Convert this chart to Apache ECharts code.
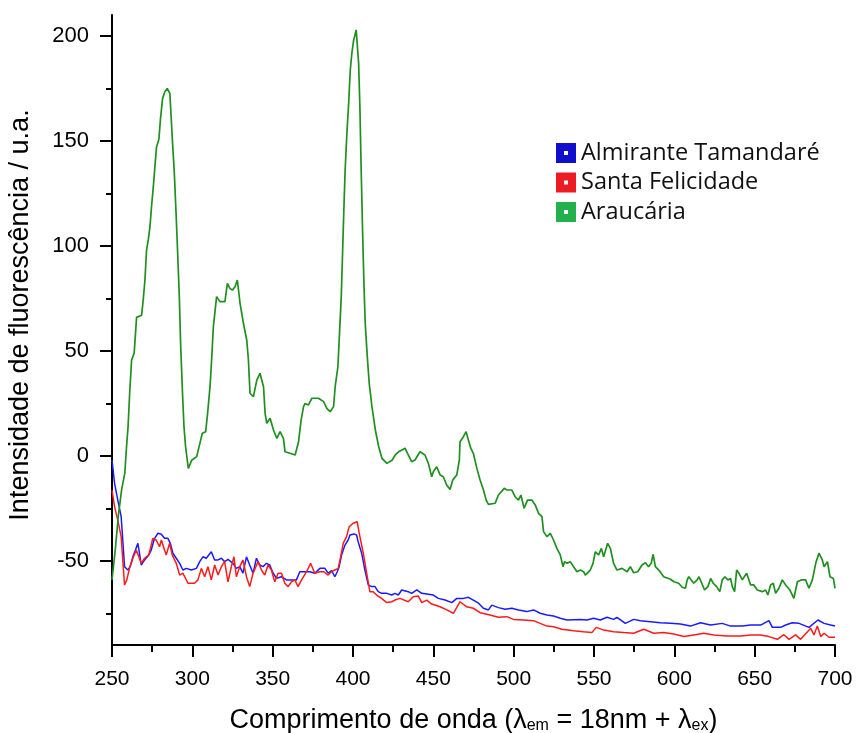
<!DOCTYPE html>
<html>
<head>
<meta charset="utf-8">
<script src="https://cdn.jsdelivr.net/npm/echarts@6/dist/echarts.min.js"></script>
<style>
  html, body { margin: 0; padding: 0; background: #fff; }
  #chart { width: 858px; height: 733px; }
</style>
</head>
<body>
<div id="chart"></div>
<script>
// Almirante Tamandaré (blue)
var tamandareX = [250,251.6,253.6,255.7,256.7,257.8,259.9,261.3,263,264.6,266.1,267.1,268.2,270.3,272.9,274.4,276.5,278.6,280.7,282.7,284.8,286.3,287.9,290,292.1,294.1,296.3,299.4,302.5,304.6,306.6,308.7,311.8,313.9,316,318.1,320.1,322.2,325.3,327.4,329.5,331.5,333.7,335.7,337.8,339.9,342,344,346.1,348.2,350.3,352.4,355.5,358.6,361.7,364.8,366.9,370,373.1,376.2,379.4,382.5,384.5,386.7,388.7,390.2,391.4,392.9,395,397,398.1,400.6,402.2,403.2,405.4,407.4,409.5,411.6,413.7,415.7,417.8,421,424.1,426.1,428.2,430.3,434.4,436.5,439.7,442.8,445.9,450,453.1,457.3,461.5,464.6,468.7,471.8,474.9,478.1,481.2,484.3,486.4,490.5,494.7,498.9,503,508.2,512.4,516.5,520.7,524.8,529,533.2,541.5,545.6,549.8,553.9,558.1,562.2,564.3,569.5,574.7,578.9,585.1,591.3,597.6,603.8,610,616.3,622.5,629.8,635,642.3,647.5,653.7,658.9,661,666.2,669.3,673.4,677.6,683.8,689.4,693.2,697.3,700];
var tamandareY = [-1.9,-13,-21,-28.9,-40,-52.7,-54.3,-52.7,-48,-44.8,-41.6,-46.3,-51.9,-49.5,-47.1,-44.8,-39.2,-36.8,-37.3,-39.2,-39.2,-41.6,-46.3,-48.7,-51.1,-54.3,-53.5,-54.3,-53.5,-50.3,-48,-48.7,-45.6,-49.5,-49.5,-48.7,-50.3,-49.2,-51.1,-53.5,-52.7,-55.8,-48,-51.9,-55.8,-48.7,-51.9,-52.7,-51.1,-51.9,-55.8,-58.2,-57.5,-59,-59,-59,-55.1,-55.1,-55.1,-55.8,-53.5,-53.5,-55.8,-54.6,-57.5,-55.1,-52.7,-47.1,-42.4,-40,-37.6,-37.1,-37.6,-40.8,-46.3,-54.3,-61.4,-62.2,-62.2,-64.6,-65.4,-65.4,-66.2,-65.4,-66.2,-63.8,-64.6,-65.4,-63.8,-65.4,-65.7,-66.2,-67.8,-68.6,-69.8,-67.8,-67.8,-67.3,-68.6,-70.1,-72.5,-73.3,-71,-72.2,-73,-72.5,-73.3,-74.1,-73.3,-74.9,-75.7,-76.2,-77.3,-78.1,-77.8,-78.1,-77.3,-78.1,-76.8,-77.8,-76.8,-79.7,-77.8,-78.4,-78.9,-79.4,-79.7,-80,-81,-79.4,-80.5,-79.7,-81,-81,-80.5,-80.5,-78.4,-81.6,-81.6,-80.5,-79.4,-79.7,-81.6,-78.1,-79.7,-80.5,-81];

// Santa Felicidade (red)
var felicidadeX = [250,251.6,253.6,255.7,256.7,257.8,259.2,260.9,263,265.1,266.7,268.2,270.3,272.9,275.4,277.5,279.6,280.7,282.7,283.8,285.8,287.5,290,292.1,294.1,297.3,301.4,303.5,305.6,307.7,309.7,311.8,313.9,316,318.1,320.1,322.2,324.3,325.9,327.4,329.5,331.5,333.7,335.7,337.8,340.9,343,345.1,347.1,349.2,351.3,353.4,355.5,357.5,359.6,361.7,363.8,365.8,368,371.1,373.6,376.2,379.4,381.9,384.5,386.7,388.7,390.8,392.3,393.9,396,397.6,400.1,402.6,403.9,406.4,408.5,410.5,412.6,414.7,417.8,421,424.1,426.1,429.2,434.4,437.5,440.7,442.8,445.9,449,454.2,458.4,462.5,466.6,470.8,474.9,479.1,485.3,490.5,495.8,499.9,506.1,512.4,516.5,520.7,524.8,530,537.3,543.5,548.7,551.4,556,562.2,568.5,574.7,581,587.2,593.4,599.6,605.9,612.1,618.3,624.6,632.9,641.2,647.5,653.7,658.9,664.1,668.2,671.4,675.5,678.6,684.9,686.9,689,691.1,693.2,696.3,700];
var felicidadeY = [-16.2,-24.1,-30.5,-38.4,-49.5,-61.4,-59,-53.5,-48.7,-44.8,-48,-51.1,-48.7,-47.1,-39.2,-40,-43.2,-40,-44.8,-47.1,-41.6,-47.1,-51.1,-56.7,-55.8,-60.6,-60.6,-59,-53.5,-57.5,-52.7,-59,-51.9,-56.7,-52.7,-50.3,-59.9,-52.7,-48,-57.5,-52.7,-49.5,-57.5,-62.2,-55.8,-50.3,-54.3,-56.7,-51.9,-54.3,-59.9,-55.8,-55.8,-60.6,-62.2,-59.9,-59,-62.2,-59,-55.1,-51.1,-55.8,-55.1,-55.1,-56.7,-55.1,-54.3,-53.5,-48,-41.6,-38.4,-33.7,-32,-31.3,-36.8,-46.3,-55.8,-64.6,-64.6,-66.2,-67.8,-69.8,-69.4,-68.6,-67.8,-69.4,-67,-66.7,-69.8,-68.6,-70.5,-71.8,-73.3,-74.9,-69.4,-71.8,-72.5,-74.6,-75.7,-76.8,-76.5,-77.8,-78.1,-78.4,-79.7,-81,-81.3,-82.5,-83.2,-83.7,-84.1,-81.6,-82.9,-83.7,-84.1,-84.4,-82.5,-84.4,-84.1,-84.8,-86,-85.2,-84.4,-85.2,-85.7,-85.7,-85.2,-85.2,-86,-87.3,-85.1,-87.3,-85.2,-87.3,-82,-85.2,-81,-86,-84.4,-86.3,-86.3];

// Araucária (green)
var araucariaX = [250,252,254,256,258,259,260,261,262.2,263.8,265.3,268.4,269.4,270.5,271.5,272.6,273.6,274.6,275.7,276.7,277.7,279.2,280.2,281.5,282.9,284.4,286,286.7,287.7,288.8,289.8,290.8,291.9,292.7,293.8,294.8,295.8,297.5,299.6,302.7,304.7,306.2,308.3,309.5,311,312,313.1,315.1,317.2,320.3,321.8,323.4,324.9,326.6,328,329.7,331.8,333.9,334.9,335.9,338,340.1,342.1,344.3,345.3,346.3,348.4,350.5,352.6,354.6,356.7,357.7,360.8,364,366.1,367.7,369.2,370.2,372.3,374.4,378.5,381.7,383.7,385.8,387.9,388.9,390.6,391.6,392.7,393.5,394.3,395.1,396.2,397.3,398.3,399.3,400.4,402,403,403.5,404.3,405.1,406,406.8,407.6,408.9,410.1,411.8,413.9,416,418,421.1,424.3,426.3,428.4,430.5,432.4,434.4,436.5,438.6,441.7,444.8,446.9,449,450,452.1,454.2,456.2,458.3,460.4,462.1,464.6,466.2,466.6,468.7,470.4,471.8,473.3,474.9,477.1,479.1,481.2,482.9,484.3,488.5,490.5,494.1,495.8,498.9,500.9,503,504.5,506.5,508.6,511.3,513.4,515.5,517.6,518.6,520.7,522.8,524.8,526.9,529,530.7,531.7,533.2,535.2,537.3,539.4,541.5,543.5,544.6,547.7,549.4,550.8,552.9,554.6,556,558.5,560.2,562.2,564.3,567.5,570.6,572.6,574.7,577.2,579.9,582,584,585.6,586.8,588.2,590.3,593.4,597.6,599.7,602.7,604.9,606.9,608,609,610.5,612.1,614.2,615.3,616.7,618.8,620.9,622.6,624.2,626.3,628.3,629.8,631.5,633.3,635,636.1,637.5,638.8,640.2,642.3,645,647.5,649.5,651.6,654.7,656.8,658.2,659.9,661.6,663,665.1,667.2,669.3,671.9,674.4,676.6,679,681.7,683.8,685.9,688,690,692.1,693.2,695.3,696.9,699,700];
var araucariaY = [-59,-45,-28,-16,-8,4,14,30,45.7,49,66,67,74,83.8,98,103,109,118.7,128,137.8,147,151,160.8,170.3,173.5,175,172.7,163,149,134.6,117,98,75.9,53.7,31.4,14,4.4,-5.9,-2,-0.3,6,10.8,11.6,20.3,33,45.7,61.6,75.9,73.5,73.5,82.2,79.8,79,80.6,83.8,72.7,63.2,55,45.7,29.9,28.2,36,39.4,33,20.3,15.6,18,12.4,8.4,11.6,8.4,2,1.3,0.5,6.8,17,23.5,25,24.3,27.5,27.5,25.9,22.7,21.1,23.5,33,42.5,58.4,75.9,96.5,117,136,153.7,168,183.8,191.8,198,202.9,202,187,166,136,106,82.2,63.2,47.3,34.6,23.5,12.4,4.4,-1.1,-3.5,-2,0.5,2,2.9,3.7,0.5,-2.7,-1.9,2,0.5,-3.5,-9.9,-7.5,-5.1,-9,-9.9,-13.8,-15.9,-11.4,-9,-1.9,6.8,9.2,11.6,7.6,3.7,1.3,-5.9,-11.4,-16.2,-21,-23,-22.5,-18.6,-15.4,-16.2,-16.2,-19.4,-21,-18.6,-24.9,-21,-21,-23.3,-27.3,-28.9,-36,-38.4,-36.8,-40,-44,-47.1,-52.7,-50.3,-51.1,-50.3,-52.7,-55.1,-54.3,-55.1,-56.7,-54.3,-51.1,-45.6,-47.1,-44,-48,-41.6,-44,-51.1,-54.3,-53.5,-55.1,-52.7,-55.6,-55.1,-51.9,-50.8,-52.7,-51.1,-46.8,-52.7,-54.3,-57.5,-58.7,-59.9,-60.6,-62.5,-63,-59,-57.5,-59,-60.6,-59,-57.5,-59.9,-63.8,-62.2,-58.3,-60.6,-62.2,-64.6,-59,-57.5,-59,-58.3,-62.2,-64.6,-54.3,-55.8,-59,-55.8,-61.4,-61.4,-63.8,-64.6,-63.8,-66.2,-61.4,-60.6,-65.4,-63,-59,-61.4,-63.8,-67.8,-59.9,-59,-59,-63,-59,-51.1,-46.3,-49.5,-52.7,-50.3,-57.5,-58.3,-63];

var seriesNames = ['Almirante Tamandaré', 'Santa Felicidade', 'Araucária'];
var lineColors = ['#1a1aff', '#ff1a1a', '#1f8f1f'];
var legendColors = ['#1010cc', '#ed1c24', '#22b14c'];
var yMajorTicks = [-50, 0, 50, 100, 150, 200];
var yMinorTicks = [-75, -25, 25, 75, 125, 175];

function pairs(xs, ys) {
	var out = [];
	for (var i = 0; i < xs.length; i++) out.push([xs[i], ys[i]]);
	return out;
}

var chart = echarts.init(document.getElementById('chart'), null, { renderer: 'canvas' });

var lists = [
	pairs(tamandareX, tamandareY),
	pairs(felicidadeX, felicidadeY),
	pairs(araucariaX, araucariaY)
];

var series = [];
for (var i = 0; i < seriesNames.length; i++) {
	series.push({
		name: seriesNames[i],
		type: 'line',
		data: lists[i],
		showSymbol: false,
		symbol: 'none',
		color: lineColors[i],
		lineStyle: { color: lineColors[i], width: i == 2 ? 1.7 : 1.5 },
		silent: true
	});
}

var axisFont = 'Liberation Sans, Arial, sans-serif';

chart.setOption({
	animation: false,
	grid: { left: 112, right: 23, top: 15, bottom: 88, outerBoundsMode: 'none', containLabel: false },
	legend: {
		orient: 'vertical',
		left: 551,
		top: 136,
		itemWidth: 20,
		itemHeight: 20,
		itemGap: 5.5,
		icon: 'path://M0,0H20V20H0Z M8,8V12H12V8Z',
		itemStyle: { borderWidth: 0 },
		textStyle: { fontFamily: 'Open Sans', fontSize: 23.5, color: '#111' },
		data: seriesNames.map(function (n, k) {
			return { name: n, itemStyle: { color: legendColors[k] } };
		})
	},
	xAxis: {
		type: 'value',
		min: 250,
		max: 700,
		interval: 50,
		name: 'Comprimento de onda (λ{s|em} = 18nm + λ{s|ex})',
		nameLocation: 'middle',
		nameGap: 62,
		nameTextStyle: {
			fontFamily: axisFont,
			fontSize: 27,
			color: '#000',
			rich: {
				s: { fontFamily: axisFont, fontSize: 16, color: '#000', verticalAlign: 'bottom', padding: [11, 0, 0, 0] }
			}
		},
		axisLine: { onZero: false, lineStyle: { color: '#000', width: 2 } },
		axisTick: { inside: false, length: 12, lineStyle: { color: '#000', width: 2 } },
		minorTick: { show: true, splitNumber: 2, length: 7, lineStyle: { color: '#000', width: 2 } },
		axisLabel: { fontFamily: axisFont, fontSize: 21, color: '#000', margin: 24 },
		splitLine: { show: false }
	},
	yAxis: [{
		type: 'value',
		min: -90,
		max: 210,
		position: 'left',
		name: 'Intensidade de fluorescência / u.a.',
		nameLocation: 'middle',
		nameGap: 78,
		nameTextStyle: { fontFamily: axisFont, fontSize: 27, color: '#000', padding: [0, 0, 0, 30] },
		axisLine: { show: true, onZero: false, lineStyle: { color: '#000', width: 2 } },
		axisTick: { show: true, inside: false, length: 12, customValues: yMajorTicks, lineStyle: { color: '#000', width: 2 } },
		axisLabel: { customValues: yMajorTicks, fontFamily: axisFont, fontSize: 22, color: '#000', margin: 23 },
		splitLine: { show: false }
	}, {
		type: 'value',
		min: -90,
		max: 210,
		position: 'left',
		axisLine: { show: false, onZero: false },
		axisTick: { show: true, inside: false, length: 6, customValues: yMinorTicks, lineStyle: { color: '#000', width: 2 } },
		axisLabel: { show: false },
		splitLine: { show: false }
	}],
	series: series
});
</script>
</body>
</html>
